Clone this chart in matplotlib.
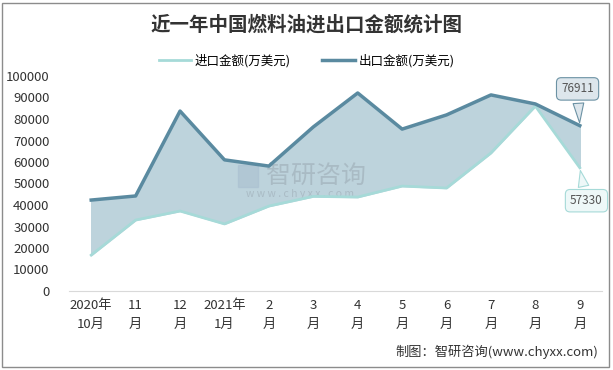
import matplotlib.pyplot as plt
import numpy as np
from matplotlib.patches import Rectangle

plt.rcParams['font.family'] = ['Noto Sans CJK SC', 'DejaVu Sans']

months = ['2020年\n10月', '11\n月', '12\n月', '2021年\n1月', '2\n月', '3\n月',
          '4\n月', '5\n月', '6\n月', '7\n月', '8\n月', '9\n月']
imports = [16700, 33000, 37200, 31200, 39500, 44000, 43700, 48800, 47900, 64200, 86000, 57330]
exports = [42300, 44200, 83700, 61000, 58100, 76300, 92100, 75300, 81900, 91200, 87000, 76911]

imp_color = '#a6dad8'
exp_color = '#5a8aa0'
fill_color = '#bdd3dc'

x = np.arange(len(months))

fig = plt.figure(figsize=(6.13, 3.70), dpi=100)
ax = fig.add_axes([69/613, 79/370, 533/613, 215/370])

# area between the two lines
ax.fill_between(x, imports, exports, color=fill_color, zorder=1)
ax.plot(x, imports, color=imp_color, lw=2, zorder=3, label='进口金额(万美元)')
ax.plot(x, exports, color=exp_color, lw=2.5, zorder=3, label='出口金额(万美元)')

ax.set_xlim(-0.5, len(months) - 0.5)
ax.set_ylim(0, 100000)
ax.set_yticks(np.arange(0, 100001, 10000))
ax.set_yticklabels([str(v) for v in range(0, 100001, 10000)], fontsize=9.5, color='#333333')
ax.set_xticks(x)
ax.set_xticklabels(months, fontsize=9.5, color='#333333', linespacing=1.6)
ax.tick_params(length=0, pad=6)
ax.tick_params(axis='y', pad=14)
for s in ['top', 'right', 'left']:
    ax.spines[s].set_visible(False)
ax.spines['bottom'].set_color('#d9d9d9')

# watermark
ax.text(5.05, 53500, '智研咨询', fontsize=18, color='#9aa8b2', alpha=0.55,
        ha='center', va='center', zorder=2)
ax.text(4.7, 45300, 'w w w . c h y x x . c o m', fontsize=7.5, color='#9aa8b2',
        alpha=0.55, ha='center', va='center', zorder=2)
ax.add_patch(Rectangle((3.3, 48500), 0.45, 10000, color='#a9bfd0', alpha=0.6, zorder=2))

# callouts for the last points
ax.annotate(str(exports[-1]), xy=(x[-1], exports[-1]), xytext=(x[-1] - 0.05, 94000),
            fontsize=8.5, color='#555555', ha='center', va='center',
            bbox=dict(boxstyle='round,pad=0.4', fc='#dde6ec', ec='#6c92a4', lw=0.8),
            arrowprops=dict(arrowstyle='wedge,tail_width=0.9', fc='#dde6ec', ec='#6c92a4', lw=0.8),
            zorder=5)
ax.annotate(str(imports[-1]), xy=(x[-1], imports[-1]), xytext=(x[-1] + 0.15, 42000),
            fontsize=8.5, color='#555555', ha='center', va='center',
            bbox=dict(boxstyle='round,pad=0.4', fc='#eef8f8', ec='#a6dad8', lw=0.8),
            arrowprops=dict(arrowstyle='wedge,tail_width=0.9', fc='#eef8f8', ec='#a6dad8', lw=0.8),
            zorder=5)

fig.text(0.5, 1 - 25/370, '近一年中国燃料油进出口金额统计图',
         fontsize=14, fontweight='bold', color='#333333', ha='center', va='center')
fig.legend(loc='center', bbox_to_anchor=(0.5, 1 - 61/370), ncol=2, frameon=False,
           fontsize=9, handlelength=2.6, columnspacing=2.5, handletextpad=0.3)
fig.text(598/613, 1 - 352/370, '制图：智研咨询(www.chyxx.com)', fontsize=9.5,
         color='#333333', ha='right', va='center')

# outer frame
fig.patches.append(Rectangle((2/613, 3/370), 607/613, 364/370, transform=fig.transFigure,
                             fill=False, ec='#8c8c8c', lw=1))

fig.savefig('out.png', dpi=100)
